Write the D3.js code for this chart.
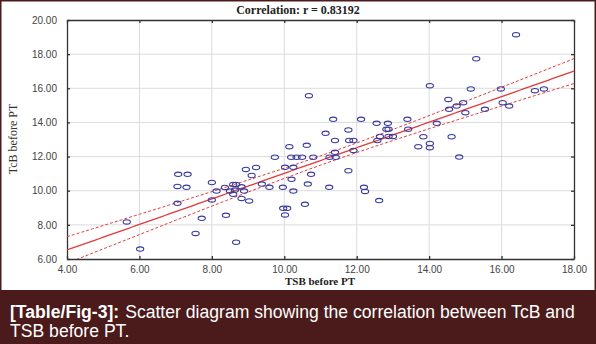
<!DOCTYPE html>
<html>
<head>
<meta charset="utf-8">
<script src="https://cdn.jsdelivr.net/npm/d3@7"></script>
<style>
  body { margin: 0; background: #fff; }
  svg { display: block; }
</style>
</head>
<body>
<div id="chart"></div>
<script>
// TSB before PT (x) and TcB before PT (y)
var tsb = [5.65, 6.02, 7.07, 7.33, 7.05, 7.30, 7.05, 7.55, 7.72, 8.00,
  8.00, 8.13, 8.36, 8.39, 8.59, 8.67, 8.82, 8.50, 8.64, 8.89,
  8.59, 8.82, 9.03, 8.67, 8.94, 9.22, 9.10, 9.38, 9.59, 9.74,
  9.96, 10.02, 10.25, 10.20, 10.25, 9.97, 10.08, 10.02, 10.14, 10.19,
  10.34, 10.49, 10.62, 10.68, 10.80, 10.74, 10.65, 10.57, 11.14, 11.25,
  11.42, 11.40, 11.24, 11.35, 11.40, 11.77, 11.79, 11.91, 11.91, 11.77,
  12.12, 12.20, 12.23, 12.55, 12.57, 12.64, 12.88, 13.00, 12.86, 12.82,
  12.88, 12.62, 13.40, 13.42, 13.70, 13.84, 14.02, 14.02, 14.02, 14.21,
  14.53, 14.55, 14.62, 14.76, 14.94, 15.00, 14.83, 15.15, 15.30, 15.54,
  15.98, 16.03, 16.21, 16.40, 16.92, 17.17];
var tcb = [8.17, 6.58, 10.96, 10.96, 10.25, 10.20, 9.26, 7.50, 8.38, 10.48,
  9.46, 9.98, 10.19, 8.56, 10.37, 10.37, 10.23, 9.98, 10.04, 9.98,
  9.79, 9.55, 9.40, 6.98, 11.25, 11.36, 10.89, 10.39, 10.20, 11.96,
  10.20, 11.37, 11.37, 10.67, 9.98, 8.97, 8.97, 8.58, 12.58, 11.96,
  11.96, 11.96, 12.66, 15.57, 11.96, 10.96, 10.39, 9.20, 13.36, 11.96,
  11.96, 12.25, 10.20, 14.18, 12.94, 13.56, 12.94, 12.94, 12.36, 11.17,
  14.18, 10.20, 9.96, 13.95, 12.94, 13.18, 13.18, 13.18, 13.95, 13.60,
  13.60, 9.42, 14.18, 13.60, 12.58, 13.16, 12.77, 12.52, 16.15, 13.95,
  15.35, 14.77, 13.16, 14.96, 15.16, 14.57, 11.97, 15.96, 17.73, 14.77,
  15.96, 15.16, 14.96, 19.14, 15.86, 15.96];

var xTicks = [4, 6, 8, 10, 12, 14, 16, 18];
var yTicks = [6, 8, 10, 12, 14, 16, 18, 20];
var title = "Correlation: r = 0.83192";
var xLabel = "TSB before PT";
var yLabel = "TcB before PT";
var captionBold = "[Table/Fig-3]:";
var captionLines = ["Scatter diagram showing the correlation between TcB and", "TSB before PT."];

(function(){
var W = 596, H = 344;
var pL = 67, pR = 574, pT = 20, pB = 259;

var svg = d3.select("#chart").append("svg")
  .attr("width", W)
  .attr("height", H);

svg.append("rect").attr("width", W).attr("height", H).attr("fill", "#fff");

var x = d3.scaleLinear().domain([4, 18]).range([pL, pR]);
var y = d3.scaleLinear().domain([6, 20]).range([pB, pT]);

// grid
svg.append("g").selectAll("line")
  .data(xTicks.slice(1, -1)).enter().append("line")
  .attr("x1", function(d){ return x(d); }).attr("x2", function(d){ return x(d); })
  .attr("y1", pT).attr("y2", pB)
  .attr("stroke", "#dcdcdc").attr("stroke-width", 1);
svg.append("g").selectAll("line")
  .data(yTicks.slice(1, -1)).enter().append("line")
  .attr("y1", function(d){ return y(d); }).attr("y2", function(d){ return y(d); })
  .attr("x1", pL).attr("x2", pR)
  .attr("stroke", "#dcdcdc").attr("stroke-width", 1);

// axes (inward ticks on all sides)
var fmt = d3.format(".2f");
var gx = svg.append("g").attr("transform", "translate(0," + pB + ")")
  .call(d3.axisBottom(x).tickValues(xTicks).tickFormat(fmt).tickSizeInner(-3).tickSizeOuter(0).tickPadding(7));
var gy = svg.append("g").attr("transform", "translate(" + pL + ",0)")
  .call(d3.axisLeft(y).tickValues(yTicks).tickFormat(fmt).tickSizeInner(-3).tickSizeOuter(0).tickPadding(10));
var gt = svg.append("g").attr("transform", "translate(0," + pT + ")")
  .call(d3.axisTop(x).tickValues(xTicks).tickFormat("").tickSizeInner(-3).tickSizeOuter(0));
var gr = svg.append("g").attr("transform", "translate(" + pR + ",0)")
  .call(d3.axisRight(y).tickValues(yTicks).tickFormat("").tickSizeInner(-3).tickSizeOuter(0));
[gx, gy, gt, gr].forEach(function(g){
  g.selectAll("path").attr("stroke", "#333").attr("stroke-width", 1.3);
  g.selectAll("line").attr("stroke", "#333").attr("stroke-width", 1.3);
  g.selectAll("text").attr("font-family", "Liberation Sans, Arial, sans-serif")
    .attr("font-size", 10).attr("fill", "#444");
});

// linear regression + 95% confidence band for the mean
var n = tsb.length;
var mx = d3.mean(tsb), my = d3.mean(tcb);
var sxx = 0, sxy = 0;
for (var i = 0; i < n; i++) {
  sxx += (tsb[i] - mx) * (tsb[i] - mx);
  sxy += (tsb[i] - mx) * (tcb[i] - my);
}
var slope = sxy / sxx, icpt = my - slope * mx;
var sse = 0;
for (var i = 0; i < n; i++) {
  var r = tcb[i] - (icpt + slope * tsb[i]);
  sse += r * r;
}
var se = Math.sqrt(sse / (n - 2));
var tcrit = 1.986;
var xs = d3.range(4, 18.001, 0.1);
function fit(v){ return icpt + slope * v; }
function half(v){ return tcrit * se * Math.sqrt(1 / n + (v - mx) * (v - mx) / sxx); }

svg.append("clipPath").attr("id", "plotclip")
  .append("rect").attr("x", pL).attr("y", pT).attr("width", pR - pL).attr("height", pB - pT);

var lines = svg.append("g").attr("clip-path", "url(#plotclip)");
var line = d3.line().x(function(d){ return x(d[0]); }).y(function(d){ return y(d[1]); });
lines.append("path")
  .attr("d", line(xs.map(function(v){ return [v, fit(v)]; })))
  .attr("fill", "none").attr("stroke", "#e23a3a").attr("stroke-width", 1.3);
lines.append("path")
  .attr("d", line(xs.map(function(v){ return [v, fit(v) + half(v)]; })))
  .attr("fill", "none").attr("stroke", "#e23a3a").attr("stroke-width", 1).attr("stroke-dasharray", "3,2");
lines.append("path")
  .attr("d", line(xs.map(function(v){ return [v, fit(v) - half(v)]; })))
  .attr("fill", "none").attr("stroke", "#e23a3a").attr("stroke-width", 1).attr("stroke-dasharray", "3,2");

// points
svg.append("g").selectAll("ellipse")
  .data(tsb).enter().append("ellipse")
  .attr("cx", function(d){ return x(d); })
  .attr("cy", function(d, i){ return y(tcb[i]); })
  .attr("rx", 3.6).attr("ry", 2.2)
  .attr("fill", "none").attr("stroke", "#3b3b9e").attr("stroke-width", 1.1);

// titles
svg.append("text").attr("x", 298).attr("y", 14).attr("text-anchor", "middle")
  .attr("font-family", "Liberation Serif, Times New Roman, serif").attr("font-weight", "bold")
  .attr("font-size", 12).attr("fill", "#222").text(title);
svg.append("text").attr("x", 320).attr("y", 285).attr("text-anchor", "middle")
  .attr("font-family", "Liberation Serif, Times New Roman, serif").attr("font-weight", "bold")
  .attr("font-size", 11).attr("fill", "#222").text(xLabel);
svg.append("text").attr("transform", "translate(17,139) rotate(-90)").attr("text-anchor", "middle")
  .attr("font-family", "Liberation Serif, Times New Roman, serif")
  .attr("font-size", 12).attr("fill", "#333").text(yLabel);

// frame + caption band
var maroon = "#4b1a1a";
svg.append("rect").attr("x", 0.75).attr("y", 0.75).attr("width", W - 1.5).attr("height", H - 1.5)
  .attr("fill", "none").attr("stroke", maroon).attr("stroke-width", 1.5);
svg.append("rect").attr("x", 0).attr("y", 290).attr("width", W).attr("height", H - 290).attr("fill", maroon);

var cap = svg.append("text").attr("x", 10).attr("y", 318)
  .attr("font-family", "Liberation Sans, Arial, sans-serif")
  .attr("font-size", 17.6).attr("fill", "#fff");
cap.append("tspan").attr("font-weight", "bold").text(captionBold);
cap.append("tspan").attr("dx", 6).text(captionLines[0]);
svg.append("text").attr("x", 10).attr("y", 337)
  .attr("font-family", "Liberation Sans, Arial, sans-serif")
  .attr("font-size", 17.6).attr("fill", "#fff").text(captionLines[1]);
})();
</script>
</body>
</html>
